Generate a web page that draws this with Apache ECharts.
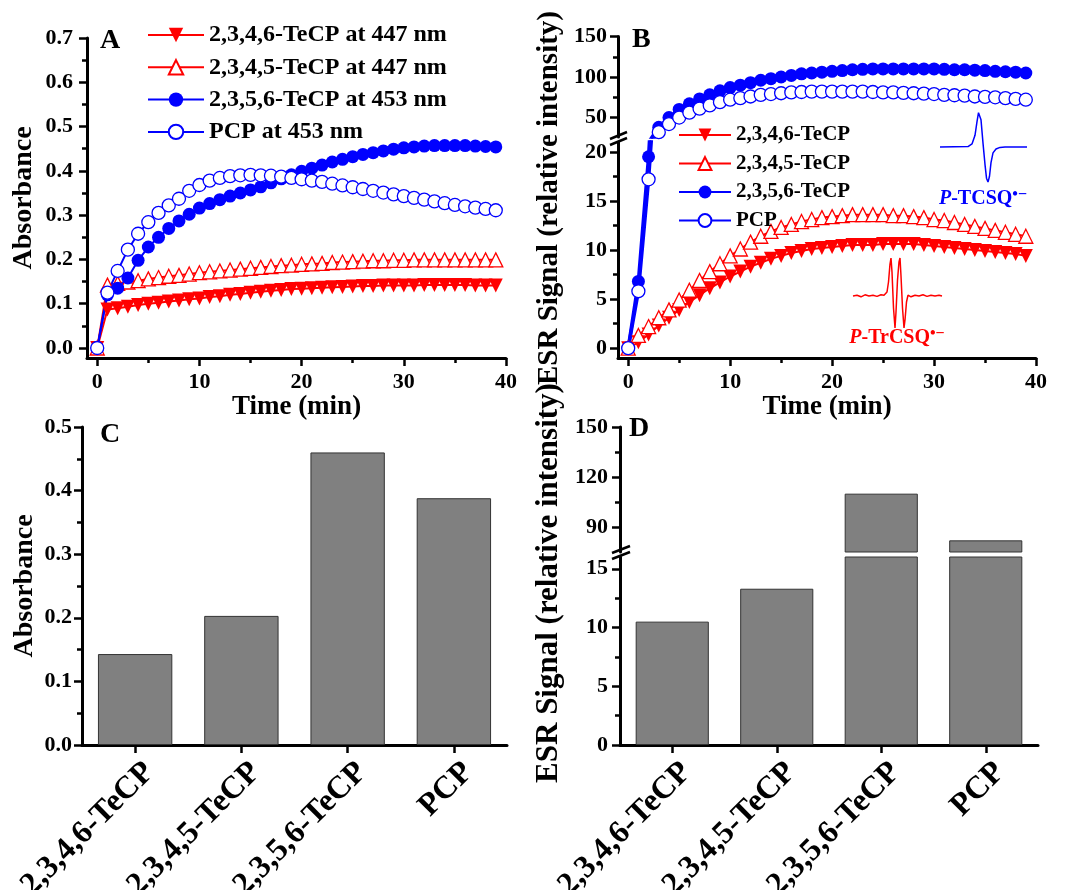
<!DOCTYPE html>
<html><head><meta charset="utf-8">
<script src="https://cdn.jsdelivr.net/npm/echarts@6/dist/echarts.min.js"></script>
<style>html,body{margin:0;padding:0;background:#fff}#c{width:1069px;height:890px}</style>
</head><body><div id="c"></div>
<script>
// ---------------- data ----------------
const time = [0,1,2,3,4,5,6,7,8,9,10,11,12,13,14,15,16,17,18,19,20,21,22,23,24,25,26,27,28,29,30,31,32,33,34,35,36,37,38,39];

// Panel A: absorbance
const aNames = ['2,3,4,6-TeCP at 447 nm','2,3,4,5-TeCP at 447 nm','2,3,5,6-TeCP at 453 nm','PCP at 453 nm'];
const aTeCP2346 = [0,0.087,0.090,0.093,0.097,0.100,0.102,0.105,0.107,0.110,0.112,0.115,0.117,0.120,0.122,0.125,0.127,0.129,0.131,0.133,0.134,0.135,0.136,0.137,0.138,0.139,0.140,0.140,0.141,0.141,0.141,0.141,0.142,0.142,0.142,0.142,0.142,0.141,0.141,0.141];
const aTeCP2345 = [0,0.142,0.146,0.149,0.152,0.156,0.159,0.162,0.164,0.167,0.170,0.172,0.174,0.176,0.178,0.180,0.182,0.184,0.186,0.187,0.189,0.190,0.191,0.193,0.194,0.195,0.196,0.197,0.197,0.198,0.198,0.199,0.199,0.199,0.199,0.199,0.199,0.199,0.199,0.199];
const aTeCP2356 = [0,0.120,0.135,0.158,0.198,0.228,0.250,0.270,0.287,0.302,0.316,0.326,0.335,0.343,0.350,0.357,0.364,0.373,0.382,0.391,0.399,0.406,0.413,0.420,0.426,0.432,0.437,0.441,0.445,0.449,0.452,0.454,0.456,0.457,0.457,0.457,0.457,0.456,0.455,0.454];
const aPCP = [0,0.125,0.174,0.222,0.258,0.284,0.305,0.322,0.337,0.355,0.368,0.378,0.384,0.388,0.390,0.391,0.390,0.389,0.387,0.384,0.381,0.378,0.375,0.371,0.367,0.363,0.359,0.355,0.351,0.347,0.343,0.339,0.335,0.331,0.327,0.323,0.320,0.317,0.314,0.311];

// Panel B: ESR signal
const bNames = ['2,3,4,6-TeCP','2,3,4,5-TeCP','2,3,5,6-TeCP','PCP'];
const bTeCP2346 = [0,0.6,1.4,2.3,3.1,3.9,4.7,5.4,6.1,6.7,7.3,7.8,8.3,8.7,9.1,9.4,9.7,9.9,10.1,10.2,10.3,10.4,10.5,10.5,10.5,10.6,10.6,10.6,10.6,10.5,10.4,10.3,10.2,10.1,10.0,9.9,9.8,9.7,9.6,9.4];
const bTeCP2345 = [0,1.3,2.2,3.1,3.9,4.9,5.9,6.9,7.8,8.6,9.4,10.1,10.8,11.4,11.9,12.3,12.6,12.9,13.1,13.3,13.4,13.5,13.6,13.6,13.6,13.6,13.5,13.5,13.4,13.3,13.1,13.0,12.8,12.6,12.4,12.2,12.0,11.8,11.6,11.4];
const bTeCP2356 = [0,6.8,19.5,38,50,60,67,73,78,83,87,90,93,96,98,100,102,104,105,106,107,108,109,109.5,110,110,110,110,110,110,110,109.5,109,109,108.5,108,107,106.5,106,105];
const bPCP = [0,5.8,17.2,32,42,50,56,61,65,69,72,74,76,78,79,80,81,81.5,82,82,82,82,82,82,81.5,81,81,80.5,80,79.5,79,78,77.5,77,76,75.5,75,74,73,72];

// Panels C, D: bars
const categories = ['2,3,4,6-TeCP','2,3,4,5-TeCP','2,3,5,6-TeCP','PCP'];
const cAbsorbance = [0.143,0.203,0.460,0.388];
const dESR = [10.5,13.3,110,82];

// ESR inset spectra (shape)
const blueSpecX = [0,28,32,35,37,38.5,39.5,41,43,45,46.5,48,49.5,51,53,56,60,65,87];
const blueSpecY = [0,0.01,0.08,0.3,0.65,0.88,0.92,0.7,0.1,-0.45,-0.8,-0.9,-0.75,-0.4,-0.15,-0.05,-0.01,0,0];
const redSpecX = [0,4,8,12,16,20,24,28,31,34,35.5,37,38,39,40.5,42,43,44.5,46,47,48,49.5,51,52,53.5,55,58,62,66,70,74,78,82,86,89];
const redSpecY = [0,0.02,-0.02,0.03,0,0.02,-0.01,0.03,0.02,0.1,0.35,0.8,0.95,0.6,-0.3,-0.8,-0.4,0.4,0.85,0.95,0.5,-0.3,-0.8,-0.6,-0.15,0.02,-0.02,0.02,0,0.03,-0.01,0.02,0,0.02,0];

// tick values
const timeTicks = [0,10,20,30,40];
const timeMinor = [5,15,25,35];
const aYTicks = [0,0.1,0.2,0.3,0.4,0.5,0.6,0.7];
const aYMinor = [0.05,0.15,0.25,0.35,0.45,0.55,0.65];
const bLowTicks = [0,5,10,15,20];
const bLowMinor = [2.5,7.5,12.5,17.5];
const bUpTicks = [50,100,150];
const bUpMinor = [75,125];
const cYTicks = [0,0.1,0.2,0.3,0.4,0.5];
const cYMinor = [0.05,0.15,0.25,0.35,0.45];
const dLowTicks = [0,5,10,15];
const dLowMinor = [2.5,7.5,12.5];
const dUpTicks = [90,120,150];
const dUpMinor = [105,135];

// ---------------- styling helpers ----------------
const FONT = "'Liberation Serif','Times New Roman',serif";
const RED = '#ff0000', BLUE = '#0000ff';

function majorAxis(gridIndex, min, max, ticks, fmt, margin, extra) {
  return Object.assign({
    type: 'value', gridIndex, min, max,
    axisLine: {show: true, onZero: false, lineStyle: {color: '#000', width: 3}},
    axisTick: {show: true, customValues: ticks, length: 8, lineStyle: {color: '#000', width: 2.5}},
    axisLabel: {customValues: ticks, formatter: fmt, fontFamily: FONT, fontWeight: 'bold', fontSize: 22, color: '#000', margin},
    splitLine: {show: false}
  }, extra || {});
}
function minorAxis(gridIndex, min, max, ticks, pos) {
  return {
    type: 'value', gridIndex, min, max, position: pos,
    axisLine: {show: false, onZero: false},
    axisTick: {show: true, customValues: ticks, length: 5, lineStyle: {color: '#000', width: 2.5}},
    axisLabel: {show: false}, splitLine: {show: false}
  };
}
function hiddenAxis(gridIndex, min, max) {
  return {type: 'value', gridIndex, min, max, show: false, axisLine: {onZero: false}, splitLine: {show: false}};
}
const f1 = v => v.toFixed(1);
const f0 = v => String(Math.round(v));
const axisNameStyle = (size) => ({fontFamily: FONT, fontWeight: 'bold', fontSize: size, color: '#000'});

function pairs(arr) { return time.map((t, i) => [t, arr[i]]); }

const filledDown = c => ({symbol: 'triangle', symbolRotate: 180, itemStyle: {color: c}});
const openUp = c => ({symbol: 'triangle', itemStyle: {color: '#fff', borderColor: c, borderWidth: 1.3}});
const filledCircle = c => ({symbol: 'circle', itemStyle: {color: c}});
const openCircle = c => ({symbol: 'circle', itemStyle: {color: '#fff', borderColor: c, borderWidth: 1.3}});

function lineSeries(name, xi, yi, data, color, marker, width, size) {
  return Object.assign({
    type: 'line', name, xAxisIndex: xi, yAxisIndex: yi, data,
    symbolSize: size, showAllSymbol: true, clip: true, animation: false,
    lineStyle: {color, width}, emphasis: {disabled: true}
  }, marker);
}

// ---------------- grids ----------------
const grids = [
  {left: 87, top: 38, width: 419, height: 320},     // 0 A
  {left: 618, top: 142, width: 418, height: 216},   // 1 B lower
  {left: 618, top: 36.5, width: 418, height: 100.5},// 2 B upper
  {left: 82, top: 427, width: 425, height: 318},    // 3 C
  {left: 620, top: 557, width: 418, height: 188},   // 4 D lower
  {left: 620, top: 427, width: 418, height: 125},   // 5 D upper
  {left: 940, top: 108, width: 87, height: 78},     // 6 blue inset
  {left: 853, top: 256, width: 89, height: 80},     // 7 red inset
  {left: 85, top: 427, width: 425, height: 318},    // 8 C category labels
  {left: 623, top: 557, width: 418, height: 188}    // 9 D category labels
].map(g => Object.assign({outerBoundsMode: 'none', containLabel: false}, g));

const catAxis = (gridIndex, show) => ({
  type: 'category', gridIndex, data: categories, show,
  axisLine: {show: true, onZero: false, lineStyle: {color: '#000', width: 3}},
  axisTick: {show: true, alignWithLabel: true, length: 8, lineStyle: {color: '#000', width: 2.5}},
  axisLabel: {show: false},
  splitLine: {show: false}
});
const catLabelAxis = (gridIndex, margin) => ({
  type: 'category', gridIndex, data: categories,
  axisLine: {show: false, onZero: false}, axisTick: {show: false}, splitLine: {show: false},
  axisLabel: {interval: 0, rotate: 45, align: 'right', verticalAlign: 'top', fontFamily: FONT, fontWeight: 'bold', fontSize: 32, color: '#000', margin}
});

const timeName = {name: 'Time (min)', nameLocation: 'middle', nameGap: 36, nameTextStyle: axisNameStyle(27), position: 'bottom'};
const xAxes = [
  majorAxis(0, -1, 40, timeTicks, f0, 13, timeName), // 0
  minorAxis(0, -1, 40, timeMinor, 'bottom'), // 1
  majorAxis(1, -1, 40, timeTicks, f0, 13, timeName), // 2
  minorAxis(1, -1, 40, timeMinor, 'bottom'), // 3
  hiddenAxis(2, -1, 40), // 4
  catAxis(3, true), // 5
  catAxis(4, true), // 6
  catAxis(5, false), // 7
  hiddenAxis(6, 0, 87), // 8
  hiddenAxis(7, 0, 89), // 9
  catLabelAxis(8, 11),  // 10
  catLabelAxis(9, 11)   // 11
];

const yAxes = [
  majorAxis(0, -0.0226, 0.7, aYTicks, f1, 14, {position: 'left', name: 'Absorbance', nameLocation: 'middle', nameGap: 49, nameTextStyle: axisNameStyle(28)}), // 0
  minorAxis(0, -0.0226, 0.7, aYMinor, 'left'), // 1
  majorAxis(1, -1, 21, bLowTicks, f0, 11, {position: 'left'}), // 2
  minorAxis(1, -1, 21, bLowMinor, 'left'), // 3
  majorAxis(2, 26, 150, bUpTicks, f0, 11, {position: 'left'}), // 4
  minorAxis(2, 26, 150, bUpMinor, 'left'), // 5
  majorAxis(3, 0, 0.5, cYTicks, f1, 10, {position: 'left', name: 'Absorbance', nameLocation: 'middle', nameGap: 43, nameTextStyle: axisNameStyle(28)}), // 6
  minorAxis(3, 0, 0.5, cYMinor, 'left'), // 7
  majorAxis(4, 0, 16, dLowTicks, f0, 12, {position: 'left'}), // 8
  minorAxis(4, 0, 16, dLowMinor, 'left'), // 9
  majorAxis(5, 75, 150, dUpTicks, f0, 12, {position: 'left'}), // 10
  minorAxis(5, 75, 150, dUpMinor, 'left'), // 11
  hiddenAxis(6, -1, 1), // 12
  hiddenAxis(7, -1, 1), // 13
  hiddenAxis(8, 0, 1),  // 14
  hiddenAxis(9, 0, 1)   // 15
];

const dUpperMin = 75;
const barStyle = {color: '#808080', borderColor: '#333', borderWidth: 1};

const series = [
  // A
  lineSeries(aNames[0], 0, 0, pairs(aTeCP2346), RED, filledDown(RED), 2, 14),
  lineSeries(aNames[1], 0, 0, pairs(aTeCP2345), RED, openUp(RED), 2, 14),
  lineSeries(aNames[2], 0, 0, pairs(aTeCP2356), BLUE, filledCircle(BLUE), 2, 13),
  lineSeries(aNames[3], 0, 0, pairs(aPCP), BLUE, openCircle(BLUE), 2, 13),
  // B lower
  lineSeries(bNames[0], 2, 2, pairs(bTeCP2346), RED, filledDown(RED), 2, 14),
  lineSeries(bNames[1], 2, 2, pairs(bTeCP2345), RED, openUp(RED), 2, 14),
  lineSeries(bNames[2], 2, 2, pairs(bTeCP2356), BLUE, filledCircle(BLUE), 3.5, 13),
  lineSeries(bNames[3], 2, 2, pairs(bPCP), BLUE, openCircle(BLUE), 3.5, 13),
  // B upper
  lineSeries(bNames[2], 4, 4, pairs(bTeCP2356), BLUE, filledCircle(BLUE), 3.5, 13),
  lineSeries(bNames[3], 4, 4, pairs(bPCP), BLUE, openCircle(BLUE), 3.5, 13),
  // C
  {type: 'bar', name: 'C', xAxisIndex: 5, yAxisIndex: 6, data: cAbsorbance, barWidth: '70%', itemStyle: barStyle, animation: false, emphasis: {disabled: true}},
  // D lower / upper
  {type: 'bar', name: 'D', xAxisIndex: 6, yAxisIndex: 8, data: dESR, barWidth: '70%', clip: true, itemStyle: barStyle, animation: false, emphasis: {disabled: true}},
  {type: 'bar', name: 'D2', xAxisIndex: 7, yAxisIndex: 10, data: dESR.map(v => v >= dUpperMin ? v : '-'), barWidth: '70%', clip: true, itemStyle: barStyle, animation: false, emphasis: {disabled: true}},
  // insets
  {type: 'line', name: 'specBlue', xAxisIndex: 8, yAxisIndex: 12, data: blueSpecX.map((x, i) => [x, blueSpecY[i]]), symbol: 'none', lineStyle: {color: BLUE, width: 1.5}, animation: false, silent: true},
  {type: 'line', name: 'specRed', xAxisIndex: 9, yAxisIndex: 13, data: redSpecX.map((x, i) => [x, redSpecY[i]]), symbol: 'none', lineStyle: {color: RED, width: 1.5}, animation: false, silent: true}
];

const legendText = (size) => ({fontFamily: FONT, fontWeight: 'bold', fontSize: size, lineHeight: size, color: '#000'});
const legends = [
  {data: aNames, orient: 'vertical', left: 147, top: 23, padding: 0, itemWidth: 56, itemHeight: 18, itemGap: 8.3, textStyle: legendText(24), selectedMode: false},
  {data: bNames, orient: 'vertical', left: 678, top: 124.5, padding: 0, itemWidth: 52, itemHeight: 16, itemGap: 7.5, textStyle: legendText(21), selectedMode: false}
];

function txt(x, y, text, size) {
  return {type: 'text', x, y, z: 100, style: {text, font: 'bold ' + size + 'px ' + FONT, fill: '#000', textVerticalAlign: 'middle', verticalAlign: 'middle'}};
}
function centerTxt(x, y, text, size, rot) {
  return {type: 'text', x, y, rotation: rot || 0, z: 100, style: {text, font: 'bold ' + size + 'px ' + FONT, fill: '#000', textAlign: 'center', align: 'center', textVerticalAlign: 'middle', verticalAlign: 'middle'}};
}
function brk(x1, y1, x2, y2) {
  return {type: 'line', z: 100, shape: {x1, y1, x2, y2}, style: {stroke: '#000', lineWidth: 2.5}};
}
function richLabel(x, y, main, color) {
  return {type: 'text', x, y, z: 100, style: {
    text: '{i|P}{n|' + main + '}{s|•−}', fill: color, textAlign: 'center', align: 'center', textVerticalAlign: 'middle', verticalAlign: 'middle',
    rich: {
      i: {font: 'italic bold 20px ' + FONT, fill: color},
      n: {font: 'bold 20px ' + FONT, fill: color},
      s: {font: 'bold 16px ' + FONT, fill: color, verticalAlign: 'top', padding: [0, 0, 8, 0]}
    }
  }};
}

const graphics = [
  txt(100, 41, 'A', 28), txt(632, 40, 'B', 28), txt(100, 435, 'C', 28), txt(629, 429, 'D', 28),
  centerTxt(550, 198, 'ESR Signal (relative intensity)', 29, Math.PI / 2),
  centerTxt(549, 583, 'ESR Signal (relative intensity)', 31, Math.PI / 2),
  brk(610, 139, 627, 132), brk(610, 145, 627, 138),
  brk(612, 553, 630, 546), brk(612, 559, 630, 552),
  richLabel(983, 199, '-TCSQ', BLUE),
  richLabel(897, 338, '-TrCSQ', RED)
];

const chart = echarts.init(document.getElementById('c'), null, {renderer: 'canvas'});
chart.setOption({
  backgroundColor: '#fff',
  animation: false,
  grid: grids,
  xAxis: xAxes,
  yAxis: yAxes,
  legend: legends,
  series,
  graphic: graphics
});
</script></body></html>
